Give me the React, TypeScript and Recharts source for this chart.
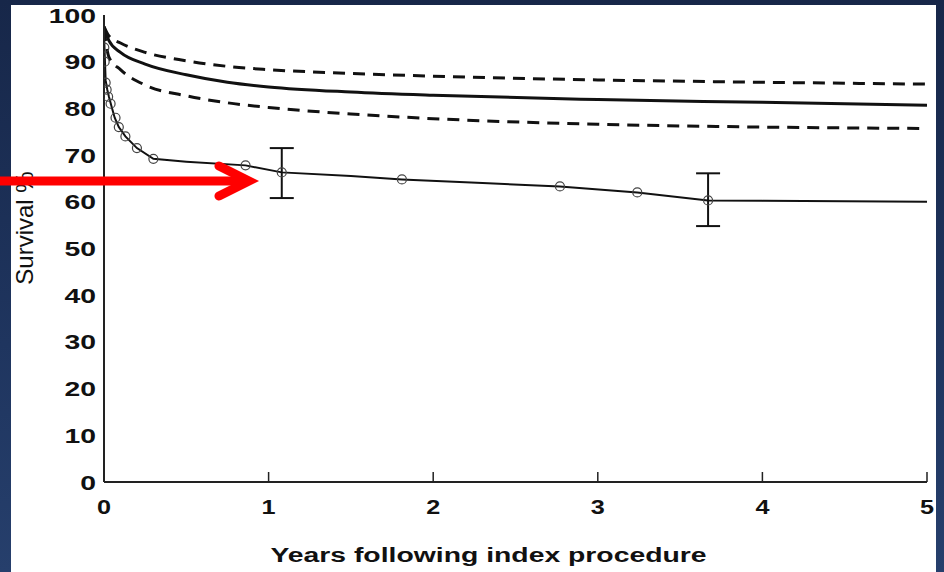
import { FC } from "react";
import {
    ComposedChart,
    Line,
    Scatter,
    XAxis,
    YAxis,
    ErrorBar,
    Label,
} from "recharts";

// fitted survival curve and its 95% band
const fitYears = [0, 0.03, 0.1, 0.25, 0.5, 0.75, 1, 1.5, 2, 3, 4, 5];
const fitSurvival = [97.5, 94.5, 92, 89.5, 87.2, 85.6, 84.6, 83.5, 82.8, 81.9, 81.3, 80.7];
const upperSurvival = [97.5, 95.5, 94, 92, 90.2, 89, 88.3, 87.5, 86.9, 86.1, 85.6, 85.2];
const lowerSurvival = [97, 91, 88.3, 85, 82.7, 81.2, 80.2, 78.8, 77.8, 76.6, 76, 75.7];

// observed (Kaplan-Meier) curve
const kmYears = [0, 0.003, 0.006, 0.01, 0.02, 0.03, 0.045, 0.065, 0.09, 0.13, 0.2, 0.3, 0.5, 0.86, 1.08, 1.5, 1.81, 2.3, 2.77, 3.24, 3.67, 4, 4.5, 5];
const kmSurvival = [97, 93, 90, 86, 84, 82.5, 80.5, 78, 76, 74, 71.5, 69.2, 68.6, 67.8, 66.3, 65.5, 64.8, 64, 63.3, 62, 60.3, 60.2, 60.1, 60];

// open circle markers, two of them with error bars
const markerYears = [0.002, 0.004, 0.01, 0.016, 0.025, 0.04, 0.07, 0.09, 0.13, 0.2, 0.3, 0.86, 1.08, 1.81, 2.77, 3.24, 3.67];
const markerSurvival = [93, 90, 85.5, 84, 82.5, 81, 78, 76, 74, 71.5, 69.2, 67.8, 66.3, 64.8, 63.3, 62, 60.3];
const markerErrors: ([number, number] | null)[] = [null, null, null, null, null, null, null, null, null, null, null, null, [5.5, 5.2], null, null, null, [5.5, 5.8]];

const xTicks = [0, 1, 2, 3, 4, 5];
const yTicks = [0, 10, 20, 30, 40, 50, 60, 70, 80, 90, 100];

const fitData = fitYears.map((year, i) => ({ year, survival: fitSurvival[i] }));
const upperData = fitYears.map((year, i) => ({ year, survival: upperSurvival[i] }));
const lowerData = fitYears.map((year, i) => ({ year, survival: lowerSurvival[i] }));
const kmData = kmYears.map((year, i) => ({ year, survival: kmSurvival[i] }));
const markerData = markerYears.map((year, i) => ({ year, survival: markerSurvival[i], err: markerErrors[i] }));

const FONT = "'Liberation Sans', Arial, sans-serif";

const YTick = (props: any) => {
    const { x, y, payload } = props;
    return <text
        transform={`translate(${x},${y}) scale(1.35,1)`}
        textAnchor="end"
        dy={7.5}
        fontFamily={FONT}
        fontWeight="bold"
        fontSize={21}
        fill="#111"
    >
        {payload.value}
    </text>
}

const XTick = (props: any) => {
    const { x, y, payload } = props;
    return <g>
        {payload.value !== 0 && <line x1={x} y1={y} x2={x} y2={y - 10} stroke="#222" strokeWidth={1.5} />}
        <text
            transform={`translate(${x},${y + 32}) scale(1.2,1)`}
            textAnchor="middle"
            fontFamily={FONT}
            fontWeight="bold"
            fontSize={21}
            fill="#111"
        >
            {payload.value}
        </text>
    </g>
}

const Marker = (props: any) => {
    const { cx, cy } = props;
    return <circle cx={cx} cy={cy} r={4.5} fill="none" stroke="#444" strokeWidth={1.2} />
}

const App: FC = () => {
    return <div style={{
        position: 'absolute',
        left: 0,
        top: 0,
        width: 944,
        height: 572,
        overflow: 'hidden',
        background: 'linear-gradient(180deg, #172749 0%, #1f355f 60%, #263f6c 100%)',
    }}>
        <div style={{ position: 'absolute', left: 11, top: 5, width: 925, height: 567, background: '#fff' }} />
        <div style={{ position: 'absolute', left: 0, top: 0 }}>
            <ComposedChart
                width={944}
                height={572}
                margin={{ top: 15, right: 17, left: 0, bottom: 0 }}
            >
                <XAxis
                    dataKey="year"
                    type="number"
                    domain={[0, 5]}
                    ticks={xTicks}
                    allowDataOverflow
                    height={90}
                    tickSize={0}
                    tickMargin={0}
                    tickLine={false}
                    tick={<XTick />}
                    axisLine={{ stroke: '#222', strokeWidth: 2 }}
                >
                    <Label content={(p: any) => <text
                        transform={`translate(${p.viewBox.x + p.viewBox.width / 2 - 27},${p.viewBox.y + 80}) scale(1.35,1)`}
                        textAnchor="middle"
                        fontFamily={FONT}
                        fontWeight="bold"
                        fontSize={21}
                        fill="#111"
                    >
                        Years following index procedure
                    </text>} />
                </XAxis>
                <YAxis
                    dataKey="survival"
                    type="number"
                    domain={[0, 100]}
                    ticks={yTicks}
                    width={104}
                    tickSize={0}
                    tickMargin={8}
                    tickLine={false}
                    tick={<YTick />}
                    axisLine={{ stroke: '#222', strokeWidth: 2 }}
                >
                    <Label content={() => <text
                        transform="translate(33,228) rotate(-90)"
                        textAnchor="middle"
                        fontFamily={FONT}
                        fontSize={24}
                        fill="#111"
                    >
                        Survival %
                    </text>} />
                </YAxis>
                <Line data={upperData} dataKey="survival" type="monotone" stroke="#111" strokeWidth={3} strokeDasharray="12 8" dot={false} isAnimationActive={false} />
                <Line data={lowerData} dataKey="survival" type="monotone" stroke="#111" strokeWidth={3} strokeDasharray="12 8" dot={false} isAnimationActive={false} />
                <Line data={fitData} dataKey="survival" type="monotone" stroke="#111" strokeWidth={3} dot={false} isAnimationActive={false} />
                <Line data={kmData} dataKey="survival" type="linear" stroke="#111" strokeWidth={2} dot={false} isAnimationActive={false} />
                <Scatter data={markerData} dataKey="survival" shape={<Marker />} isAnimationActive={false}>
                    <ErrorBar dataKey="err" direction="y" width={12} stroke="#111" strokeWidth={2} />
                </Scatter>
            </ComposedChart>
        </div>
        <svg width={944} height={572} style={{ position: 'absolute', left: 0, top: 0, pointerEvents: 'none' }}>
            <line x1={0} y1={181} x2={244} y2={181} stroke="#ff0000" strokeWidth={9} />
            <polyline points="219,166 249,181 219,196" fill="none" stroke="#ff0000" strokeWidth={9} strokeLinecap="round" strokeLinejoin="miter" />
        </svg>
    </div>
}

export default App
